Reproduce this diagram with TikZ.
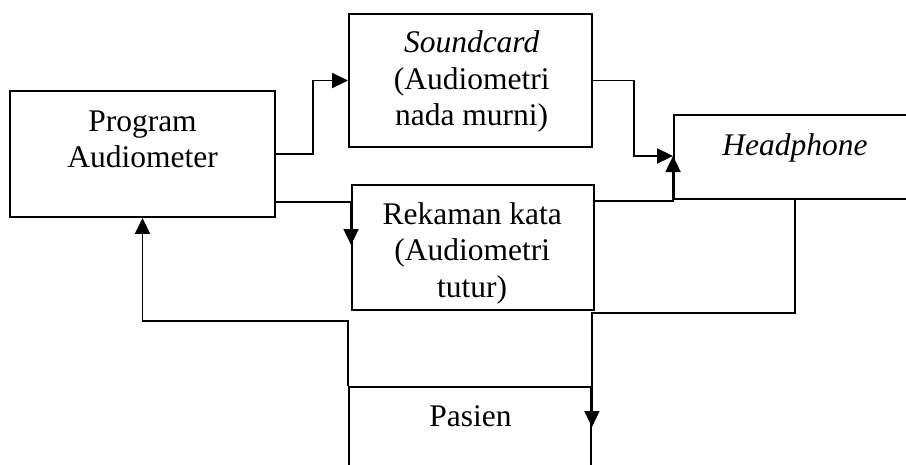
\documentclass[tikz,border=0pt]{standalone}
\usepackage{fontspec}
\setmainfont{Liberation Serif}
\usetikzlibrary{arrows.meta}
\begin{document}
\begin{tikzpicture}[x=1pt,y=-1pt,
  box/.style={draw, line width=1.9pt, rectangle, inner sep=0pt},
  label/.style={inner sep=0pt, align=center,
    font=\fontsize{31.5}{36.5}\selectfont},
  link/.style={line width=1.9pt, -{Triangle[length=16pt,width=15pt]}}]
  \clip (0,0) rectangle (906,464);
  \fill[white] (0,0) rectangle (906,464);

  % blocks
  \node[box, minimum width=265pt, minimum height=126pt] (prog) at (142.5,154) {};
  \node[box, minimum width=243pt, minimum height=133pt] (sound) at (470.5,80.5) {};
  \node[box, minimum width=242pt, minimum height=125pt] (rek) at (473,247.5) {};
  \node[box, minimum width=266pt, minimum height=84pt] (head) at (807,157) {};
  \node[box, minimum width=242pt, minimum height=113pt] (pasien) at (470,443.5) {};

  % block texts
  \node[label] (progtxt) at (142.5,142) {\strut Program\\\strut Audiometer};
  \node[label] (soundtxt) at (471.7,81.9) {\strut\textit{Soundcard}\\\strut(Audiometri\\\strut nada murni)};
  \node[label] (rektxt) at (472.2,253.2) {\strut Rekaman kata\\\strut(Audiometri\\\strut tutur)};
  \node[label] (headtxt) at (795,147.7) {\strut\textit{Headphone}};
  \node[label] (pasientxt) at (470.5,418.7) {\strut Pasien};

  % meeting point of the two inputs of the headphone
  \coordinate (hin) at ([yshift=1pt]head.west);

  % connectors
  \draw[link] (prog.east) -- ++(37,0) |- (sound.west);
  \draw[link] ([yshift=16pt]prog.south east) -| ([yshift=2.5pt]rek.west);
  \draw[link] (sound.east) -- ++(41,0) |- (hin);
  \draw[link] ([yshift=-17pt]rek.north east) -| (hin);
  \draw[link] ([xshift=-12pt]head.south) -- ++(0,113) -| ([yshift=16.5pt]pasien.east);
  \draw[link] (pasien.north west) -- ++(0,-65) -| (prog.south);
\end{tikzpicture}
\end{document}
